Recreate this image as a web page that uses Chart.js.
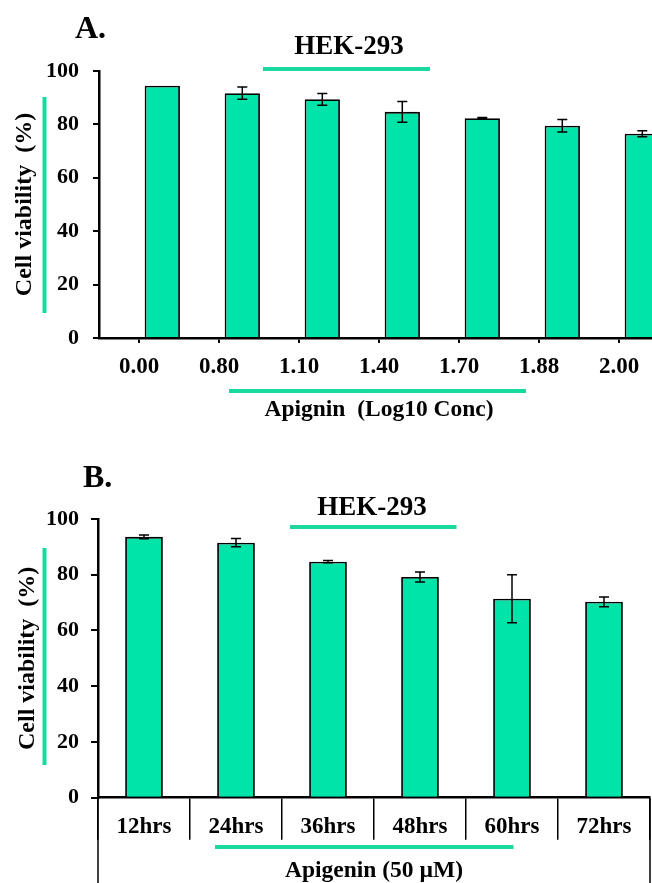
<!DOCTYPE html>
<html>
<head>
<meta charset="utf-8">
<script src="https://cdn.jsdelivr.net/npm/chart.js@4.4.1/dist/chart.umd.min.js"></script>
<style>
  html, body { margin: 0; padding: 0; background: #fff; width: 652px; height: 883px; overflow: hidden; }
  .panel { position: absolute; left: 0; width: 652px; overflow: hidden; }
  #panelA { top: 0; height: 430px; }
  #panelB { top: 450px; height: 433px; }
</style>
</head>
<body>
<div class="panel" id="panelA"><canvas id="chartA" width="662" height="430"></canvas></div>
<div class="panel" id="panelB"><canvas id="chartB" width="652" height="440"></canvas></div>
<script>
// Panel A: viability vs log10 concentration
const concLabels = ['0.00', '0.80', '1.10', '1.40', '1.70', '1.88', '2.00'];
const concViability = [94.5, 91.7, 89.4, 84.7, 82.3, 79.5, 76.5];
const concError = [0, 2.3, 2.2, 3.9, 0.3, 2.3, 1.1];

// Panel B: viability vs time at 50 uM
const timeLabels = ['12hrs', '24hrs', '36hrs', '48hrs', '60hrs', '72hrs'];
const timeViability = [93.6, 91.5, 84.7, 79.2, 71.4, 70.3];
const timeError = [0.7, 1.5, 0.4, 1.8, 8.6, 1.75];

const BAR = '#00E4AA';
const GREEN_LINE = '#19D9A0';
const FONT = '"Liberation Serif", "Times New Roman", serif';

const errorBarPlugin = {
    id: 'errorBars',
    afterDatasetsDraw(chart, args, opts) {
        const meta = chart.getDatasetMeta(opts.datasetIndex);
        const values = chart.data.datasets[opts.datasetIndex].data;
        const y = chart.scales.y;
        const ctx = chart.ctx;
        ctx.save();
        ctx.strokeStyle = '#000';
        ctx.lineWidth = 1.5;
        meta.data.forEach((bar, i) => {
            const e = opts.errors[i];
            if (!e) return;
            const top = y.getPixelForValue(values[i] + e);
            const bot = y.getPixelForValue(values[i] - e);
            ctx.beginPath();
            ctx.moveTo(bar.x, top); ctx.lineTo(bar.x, bot);
            ctx.moveTo(bar.x - 5, top); ctx.lineTo(bar.x + 5, top);
            ctx.moveTo(bar.x - 5, bot); ctx.lineTo(bar.x + 5, bot);
            ctx.stroke();
        });
        ctx.restore();
    }
};

// panel letter, cell-line heading, green accent lines
const decorPlugin = {
    id: 'decor',
    afterDraw(chart, args, opts) {
        const ctx = chart.ctx;
        const area = chart.chartArea;
        ctx.save();
        ctx.strokeStyle = GREEN_LINE;
        ctx.lineWidth = 4;
        opts.lines.forEach(([x1, y1, x2, y2]) => {
            ctx.beginPath();
            ctx.moveTo(x1, y1);
            ctx.lineTo(x2, y2);
            ctx.stroke();
        });
        if (opts.outerFrame) {
            ctx.strokeStyle = '#000';
            ctx.lineWidth = 1.5;
            [area.left, area.right].forEach(x => {
                ctx.beginPath();
                ctx.moveTo(x, area.bottom);
                ctx.lineTo(x, chart.height);
                ctx.stroke();
            });
        }
        ctx.fillStyle = '#000';
        ctx.font = 'bold 32px ' + FONT;
        ctx.textAlign = 'left';
        ctx.textBaseline = 'alphabetic';
        ctx.fillText(opts.panel.text, opts.panel.x, opts.panel.y);
        ctx.font = 'bold 27px ' + FONT;
        ctx.textAlign = 'center';
        ctx.textBaseline = 'middle';
        ctx.fillText(opts.heading.text, opts.heading.x, opts.heading.y);
        ctx.restore();
    }
};

function yScale(width, tickLen, pad, titlePad) {
    return {
        min: 0,
        max: 100,
        ticks: { stepSize: 20, color: '#000', padding: pad, font: { family: FONT, size: 22, weight: 'bold' } },
        grid: { drawOnChartArea: false, tickLength: tickLen, color: '#000', lineWidth: 2 },
        border: { color: '#000', width: 2.5 },
        title: {
            display: true,
            text: 'Cell viability  (%)',
            color: '#000',
            font: { family: FONT, size: 24, weight: 'bold' },
            padding: { top: titlePad, bottom: 0 }
        },
        afterFit(scale) { scale.width = width; }
    };
}

new Chart(document.getElementById('chartA'), {
    type: 'bar',
    data: {
        labels: concLabels,
        datasets: [
            { data: concLabels.map(() => null) }, // empty slot so bars sit right of the ticks
            {
                data: concViability,
                backgroundColor: BAR,
                borderColor: '#000',
                borderWidth: 1.8
            }
        ]
    },
    options: {
        responsive: false,
        animation: false,
        layout: { padding: { top: 71, right: 3, left: 0, bottom: 0 } },
        datasets: { bar: { categoryPercentage: 1.165, barPercentage: 0.757 } },
        plugins: {
            legend: { display: false },
            tooltip: { enabled: false },
            errorBars: { datasetIndex: 1, errors: concError },
            decor: {
                panel: { text: 'A.', x: 75, y: 38 },
                heading: { text: 'HEK-293', x: 349, y: 47 },
                lines: [[263, 69, 430, 69], [44.5, 97, 44.5, 313], [229, 391, 526, 391]]
            }
        },
        scales: {
            x: {
                offset: true,
                grid: { offset: false, drawOnChartArea: false, tickLength: 5, color: '#000', lineWidth: 2 },
                border: { color: '#000', width: 2.5 },
                ticks: { color: '#000', padding: 10, font: { family: FONT, size: 23, weight: 'bold' } },
                title: {
                    display: true,
                    text: 'Apignin  (Log10 Conc)',
                    color: '#000',
                    font: { family: FONT, size: 23.5, weight: 'bold' },
                    padding: { top: 5.3, bottom: 5.9 }
                }
            },
            y: yScale(99, 6, 14, 10)
        }
    },
    plugins: [errorBarPlugin, decorPlugin]
});

new Chart(document.getElementById('chartB'), {
    type: 'bar',
    data: {
        labels: timeLabels,
        datasets: [{
            data: timeViability,
            backgroundColor: BAR,
            borderColor: '#000',
            borderWidth: 1.8,
            categoryPercentage: 0.82,
            barPercentage: 0.5
        }]
    },
    options: {
        responsive: false,
        animation: false,
        layout: { padding: { top: 69, right: 2, left: 0, bottom: 0 } },
        plugins: {
            legend: { display: false },
            tooltip: { enabled: false },
            errorBars: { datasetIndex: 0, errors: timeError },
            decor: {
                panel: { text: 'B.', x: 83, y: 37 },
                heading: { text: 'HEK-293', x: 372, y: 58 },
                lines: [[290, 77, 456.5, 77], [44.5, 98, 44.5, 315], [215, 397, 513.5, 397]],
                outerFrame: true
            }
        },
        scales: {
            x: {
                grid: { offset: true, drawOnChartArea: false, tickLength: 42, color: '#000', lineWidth: 1.5 },
                border: { color: '#000', width: 2.5 },
                ticks: { color: '#000', padding: -26, font: { family: FONT, size: 23, weight: 'bold' } },
                title: {
                    display: true,
                    text: 'Apigenin (50 µM)',
                    color: '#000',
                    font: { family: FONT, size: 23.5, weight: 'bold' },
                    padding: { top: 41.6, bottom: 4.9 }
                }
            },
            y: yScale(98, 7, 12, 13)
        }
    },
    plugins: [errorBarPlugin, decorPlugin]
});
</script>
</body>
</html>
